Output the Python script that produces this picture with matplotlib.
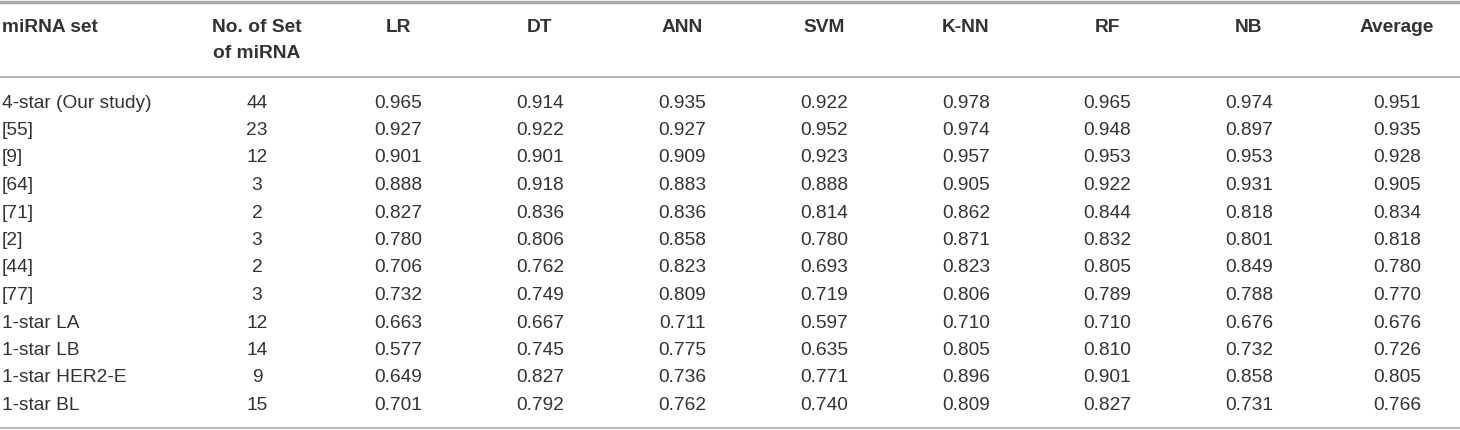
import matplotlib.pyplot as plt

plt.rcParams['font.family'] = ['Liberation Sans', 'DejaVu Sans']

headers = ['miRNA set', 'No. of Set\nof miRNA', 'LR', 'DT', 'ANN', 'SVM', 'K-NN', 'RF', 'NB', 'Average']
mirna_sets = ['4-star (Our study)', '[55]', '[9]', '[64]', '[71]', '[2]', '[44]', '[77]',
              '1-star LA', '1-star LB', '1-star HER2-E', '1-star BL']
n_mirna = [44, 23, 12, 3, 2, 3, 2, 3, 12, 14, 9, 15]
lr = [0.965, 0.927, 0.901, 0.888, 0.827, 0.780, 0.706, 0.732, 0.663, 0.577, 0.649, 0.701]
dt = [0.914, 0.922, 0.901, 0.918, 0.836, 0.806, 0.762, 0.749, 0.667, 0.745, 0.827, 0.792]
ann = [0.935, 0.927, 0.909, 0.883, 0.836, 0.858, 0.823, 0.809, 0.711, 0.775, 0.736, 0.762]
svm = [0.922, 0.952, 0.923, 0.888, 0.814, 0.780, 0.693, 0.719, 0.597, 0.635, 0.771, 0.740]
knn = [0.978, 0.974, 0.957, 0.905, 0.862, 0.871, 0.823, 0.806, 0.710, 0.805, 0.896, 0.809]
rf = [0.965, 0.948, 0.953, 0.922, 0.844, 0.832, 0.805, 0.789, 0.710, 0.810, 0.901, 0.827]
nb = [0.974, 0.897, 0.953, 0.931, 0.818, 0.801, 0.849, 0.788, 0.676, 0.732, 0.858, 0.731]
average = [0.951, 0.935, 0.928, 0.905, 0.834, 0.818, 0.780, 0.770, 0.676, 0.726, 0.805, 0.766]

# column centres in pixels
col_x = [2, 257, 398, 540, 682, 824, 966, 1107, 1249, 1397]
txt = '#333333'
fs = 13.8

fig = plt.figure(figsize=(14.6, 4.3), dpi=100)
ax = fig.add_axes([0, 0, 1, 1])
ax.set_xlim(0, 1460)
ax.set_ylim(430, 0)
ax.axis('off')

# rules
ax.plot([0, 1460], [1.5, 1.5], color='#aaaaaa', lw=2.5)
ax.plot([0, 1460], [77, 77], color='#aaaaaa', lw=1.2)
ax.plot([0, 1460], [428, 428], color='#aaaaaa', lw=1.2)

# header, one text per line
for i, h in enumerate(headers):
    ha = 'left' if i == 0 else 'center'
    for k, part in enumerate(h.split('\n')):
        ax.text(col_x[i], 27 + k * 26, part, ha=ha, va='center', fontsize=fs,
                fontweight='bold', color=txt)

columns = [n_mirna, lr, dt, ann, svm, knn, rf, nb, average]
row_h = 27.5
for r, name in enumerate(mirna_sets):
    y = 103 + r * row_h
    ax.text(col_x[0], y, name, ha='left', va='center', fontsize=fs, color=txt)
    for c, vals in enumerate(columns):
        v = vals[r]
        s = str(v) if c == 0 else '%.3f' % v
        ax.text(col_x[c + 1], y, s, ha='center', va='center', fontsize=fs, color=txt)

plt.savefig('out.png', dpi=100)
